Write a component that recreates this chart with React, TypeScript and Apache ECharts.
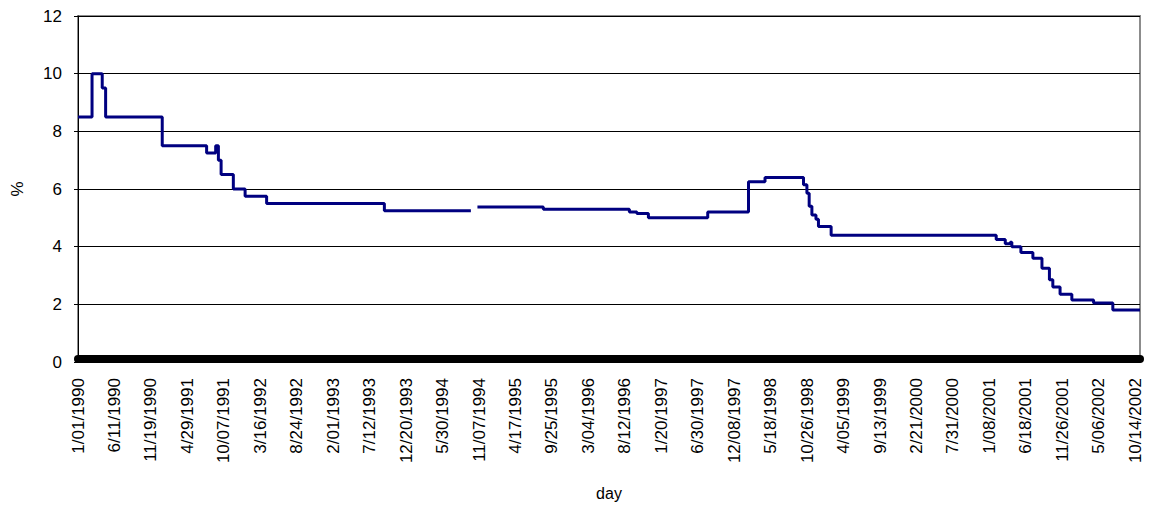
import React, { useEffect, useRef } from "react";
import * as echarts from "echarts";

// x tick labels, one every 161 days starting at 1/01/1990 (day 0)
const tickLabels = [
  "1/01/1990", "6/11/1990", "11/19/1990", "4/29/1991", "10/07/1991", "3/16/1992",
  "8/24/1992", "2/01/1993", "7/12/1993", "12/20/1993", "5/30/1994", "11/07/1994",
  "4/17/1995", "9/25/1995", "3/04/1996", "8/12/1996", "1/20/1997", "6/30/1997",
  "12/08/1997", "5/18/1998", "10/26/1998", "4/05/1999", "9/13/1999", "2/21/2000",
  "7/31/2000", "1/08/2001", "6/18/2001", "11/26/2001", "5/06/2002", "10/14/2002",
];
const tickStep = 161;
const lastDay = 4690;

// days since 1/01/1990 at which the rate changes, and the new rate (%)
const changeDays = [
  0, 62, 107, 122, 372, 568, 608, 620, 632, 686, 738, 833, 1353, 1705, 1735,
  1764, 2055, 2435, 2468, 2519, 2781, 2961, 3034, 3204, 3219, 3229, 3241, 3259,
  3270, 3326, 4055, 4095, 4117, 4124, 4164, 4217, 4257, 4290, 4305, 4337, 4389,
  4485, 4570, 4690,
];
const rates: (number | null)[] = [
  8.5, 10, 9.5, 8.5, 7.5, 7.25, 7.5, 7.0, 6.5, 6.0, 5.75, 5.5, 5.25, 5.25, null,
  5.375, 5.3, 5.2, 5.15, 5.0, 5.2, 6.25, 6.4, 6.15, 5.85, 5.4, 5.1, 4.95,
  4.7, 4.4, 4.25, 4.1, 4.15, 4.0, 3.8, 3.6, 3.25, 2.85, 2.6, 2.35, 2.15,
  2.05, 1.8, 1.8,
];

const FONT = "'Liberation Sans', Arial, sans-serif";

export default function App() {
  const ref = useRef<HTMLDivElement>(null);
  useEffect(() => {
    if (!ref.current) return;
    const chart = echarts.init(ref.current, null, { renderer: "svg" });
    const data = changeDays.map((d, i) => [d, rates[i]]);
    chart.setOption({
      animation: false,
      backgroundColor: "#ffffff",
      grid: {
        left: 78,
        right: 9,
        top: 16,
        bottom: 148,
        show: true,
        borderColor: "#8c8c8c",
        borderWidth: 2,
        backgroundColor: "transparent",
      },
      xAxis: {
        type: "value",
        min: 0,
        max: lastDay,
        interval: tickStep,
        offset: -3,
        name: "day",
        nameLocation: "middle",
        nameGap: 126,
        nameTextStyle: { fontFamily: FONT, fontSize: 16, color: "#000" },
        axisLine: { show: true, onZero: false, lineStyle: { color: "#000", width: 8 } },
        axisTick: { show: false },
        splitLine: { show: false },
        axisLabel: {
          rotate: 90,
          margin: 19,
          fontFamily: FONT,
          fontSize: 17,
          color: "#000",
          formatter: (v: number) => {
            const idx = v / tickStep;
            return Number.isInteger(idx) && tickLabels[idx] ? tickLabels[idx] : "";
          },
        },
      },
      yAxis: {
        type: "value",
        min: 0,
        max: 12,
        interval: 2,
        name: "%",
        nameLocation: "middle",
        nameGap: 52,
        nameRotate: 90,
        nameTextStyle: { fontFamily: FONT, fontSize: 17, color: "#000" },
        axisLine: { show: true, lineStyle: { color: "#000", width: 1 } },
        axisTick: { show: true, inside: false, length: 4, lineStyle: { color: "#000" } },
        splitLine: { show: true, lineStyle: { color: "#000", width: 1 } },
        axisLabel: {
          margin: 16,
          fontFamily: FONT,
          fontSize: 17,
          color: "#000",
        },
      },
      series: [
        {
          type: "line",
          step: "end",
          data,
          showSymbol: false,
          connectNulls: false,
          lineStyle: { color: "#000080", width: 3 },
          itemStyle: { color: "#000080" },
        },
      ],
    });
    return () => chart.dispose();
  }, []);
  return (
    <div
      ref={ref}
      style={{ position: "fixed", left: 0, top: 0, width: 1149, height: 510, background: "#fff" }}
    />
  );
}
